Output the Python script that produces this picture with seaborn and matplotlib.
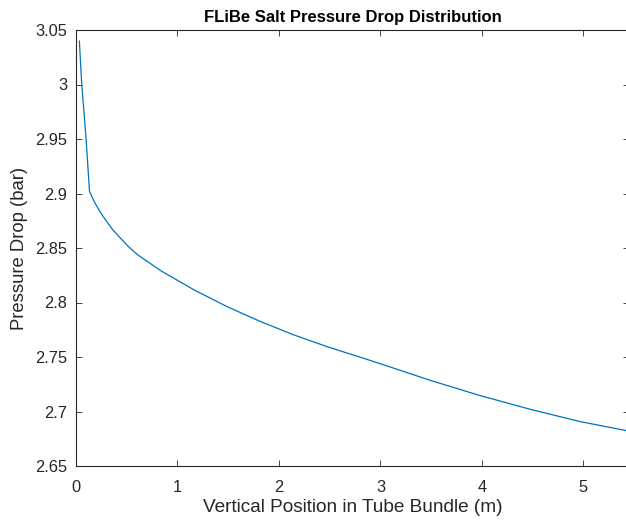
import matplotlib
matplotlib.use("Agg")
import matplotlib.pyplot as plt
import seaborn as sns
import pandas as pd

position_m = [0.033, 0.056, 0.098, 0.133, 0.18, 0.23, 0.28, 0.36, 0.44, 0.52, 0.61, 0.84,
              1.165, 1.493, 1.821, 2.149, 2.477, 2.805, 3.0, 3.494, 3.986, 4.478, 4.97, 5.45]
pressure_bar = [3.040, 3.001, 2.952, 2.902, 2.8925, 2.8842, 2.8773, 2.8670, 2.8589, 2.8510, 2.8436,
                2.8289, 2.8115, 2.7960, 2.7824, 2.7702, 2.7594, 2.7497, 2.7438, 2.7285, 2.7145,
                2.7020, 2.6907, 2.6820]

title = "FLiBe Salt Pressure Drop Distribution"
xlabel = "Vertical Position in Tube Bundle (m)"
ylabel = "Pressure Drop (bar)"
xticks = [0, 1, 2, 3, 4, 5]
yticks = [2.65, 2.7, 2.75, 2.8, 2.85, 2.9, 2.95, 3.0, 3.05]
yticklabels = ["2.65", "2.7", "2.75", "2.8", "2.85", "2.9", "2.95", "3", "3.05"]

sns.set_style("white")
plt.rcParams["font.family"] = ["Liberation Sans", "DejaVu Sans"]
grey = "#262626"

df = pd.DataFrame({"x": position_m, "y": pressure_bar})

fig = plt.figure(figsize=(6.26, 5.27), dpi=100)
ax = fig.add_axes([76 / 626, 61 / 527, 553 / 626, 436 / 527])
sns.lineplot(data=df, x="x", y="y", ax=ax, color="#0072BD", linewidth=0.9)

ax.set_xlim(0, 5.45)
ax.set_ylim(2.65, 3.05)
ax.set_xticks(xticks)
ax.set_xticklabels([str(t) for t in xticks])
ax.set_yticks(yticks)
ax.set_yticklabels(yticklabels)
ax.tick_params(direction="in", length=4, width=0.6, colors=grey, labelsize=11.8,
               top=True, right=True, bottom=True, left=True)
ax.tick_params(axis="x", pad=10)
ax.tick_params(axis="y", pad=6.5)
for s in ax.spines.values():
    s.set_color(grey)
    s.set_linewidth(0.8)
    s.set_visible(True)
ax.set_xlabel(xlabel, fontsize=13.7, color=grey, labelpad=3)
ax.set_ylabel(ylabel, fontsize=13.3, color=grey, labelpad=5)
ax.set_title(title, fontsize=12, fontweight="bold", color="black", pad=6)

fig.savefig("out.png", dpi=100)
